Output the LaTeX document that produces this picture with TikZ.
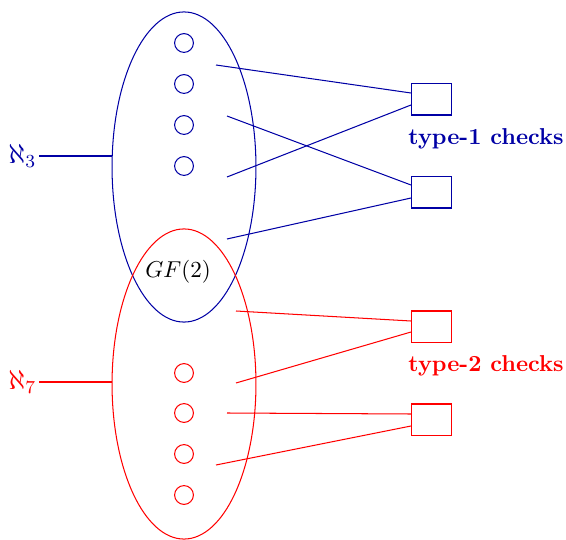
\documentclass[tikz,border=0pt]{standalone}
\usetikzlibrary{shapes.geometric}
\definecolor{navyb}{RGB}{0,0,165}
\definecolor{redc}{RGB}{255,0,0}
\begin{document}
\begin{tikzpicture}[x=0.435pt,y=-0.435pt,
  bigell/.style={draw,ellipse,inner sep=0pt,minimum width=62.6pt,minimum height=134.9pt},
  dot/.style={draw,circle,inner sep=0pt,minimum size=8.2pt},
  chk/.style={draw,rectangle,inner sep=0pt,minimum width=17.8pt,minimum height=13.5pt},
  lbl/.style={font=\bfseries},
  alef/.style={anchor=east,inner sep=1pt,font=\large},
  every path/.style={line width=0.45pt}]
\useasboundingbox (0,0) rectangle (566,540);
% ellipses
\node[bigell,navyb] (E1) at (184,167) {};
\node[bigell,redc] (E2) at (184,384) {};
\node (gf) at (178,272) {$GF(2)$};
% blue dots
\foreach \i/\y in {1/43,2/84,3/125,4/166}
  \node[dot,navyb] (b\i) at (184,\y) {};
% red dots
\foreach \i/\y in {1/373,2/413,3/454,4/495}
  \node[dot,redc] (r\i) at (184,\y) {};
% check boxes
\node[chk,navyb] (c1) at (431.5,99.5) {};
\node[chk,navyb] (c2) at (431.5,192.5) {};
\node[chk,redc] (c3) at (431.5,326.5) {};
\node[chk,redc] (c4) at (431.5,419.5) {};
\node[lbl,navyb] (t1) at (486,139) {type-1 checks};
\node[lbl,redc] (t2) at (486,366) {type-2 checks};
% aleph labels
\node[navyb,alef] (a3) at (39,156) {$\aleph_3$};
\node[redc,alef] (a7) at (39,382) {$\aleph_7$};
\coordinate (e1w) at (112,156);
\coordinate (e2w) at (112,382);
\draw[navyb] (a3.east) -- (e1w);
\draw[redc] (a7.east) -- (e2w);
% blue edges
\coordinate (s1) at (216,65);
\coordinate (s2) at (227,116);
\coordinate (s3) at (227,177);
\coordinate (s4) at (227,239);
\coordinate (c1a) at (411,93);
\coordinate (c1b) at (411,105);
\coordinate (c2a) at (411,185);
\coordinate (c2b) at (411,198);
\draw[navyb] (s1) -- (c1a);
\draw[navyb] (s2) -- (c2a);
\draw[navyb] (s3) -- (c1b);
\draw[navyb] (s4) -- (c2b);
% red edges
\coordinate (q1) at (236,311);
\coordinate (q2) at (236,383);
\coordinate (q3) at (227,413);
\coordinate (q4) at (216,465);
\coordinate (c3a) at (411,321);
\coordinate (c3b) at (411,332);
\coordinate (c4a) at (411,414);
\coordinate (c4b) at (411,426);
\draw[redc] (q1) -- (c3a);
\draw[redc] (q2) -- (c3b);
\draw[redc] (q3) -- (c4a);
\draw[redc] (q4) -- (c4b);
\end{tikzpicture}
\end{document}
